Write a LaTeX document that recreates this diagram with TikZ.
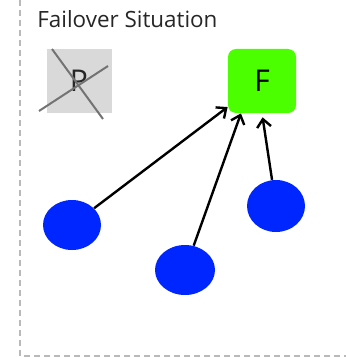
\documentclass[tikz,border=0pt]{standalone}
\usepackage{fontspec}
\setmainfont{Open Sans}
\usetikzlibrary{shapes.geometric,arrows.meta}
\definecolor{nodegreen}{HTML}{4CFF00}
\definecolor{nodeblue}{HTML}{0026FF}
\definecolor{deadgray}{HTML}{D9D9D9}
\tikzset{
	server/.style={rounded corners=4pt,minimum width=34pt,minimum height=32pt,inner sep=0pt,font=\fontsize{15}{15}\selectfont},
	client/.style={ellipse,fill=nodeblue,inner sep=0pt},
	link/.style={->,line width=1.2pt,>={Straight Barb[length=4pt,width=7pt]}}
}
\begin{document}
\begin{tikzpicture}[x=0.5pt,y=-0.5pt]
		\useasboundingbox (0,0) rectangle (346,358);
		\draw[gray!55,line width=1pt,dash pattern=on 3pt off 2pt] (20,0)--(20,356)--(346,356);
		\node[anchor=base west,inner sep=0pt,text=black!85,font=\fontsize{11.2}{12}\selectfont] (title) at (37,28) {Failover Situation};
		% the primary that went down
		\node[server,rounded corners=0pt,fill=deadgray,minimum width=32.5pt,text=black!85] (p) at (79,81) {P};
		\draw[black!55,line width=1pt] (52,49)--(103,119) (39,111)--(108,66);
		% the failover node
		\node[server,fill=nodegreen] (f) at (262,81) {F};
		\node[client,minimum width=29pt,minimum height=25pt] (c1) at (72,225) {};
		\node[client,minimum width=30pt,minimum height=25pt] (c2) at (185,270) {};
		\node[client,minimum width=29pt,minimum height=26pt] (c3) at (276,206) {};
		\draw[link] (c1)--(f);
		\draw[link] (c2)--(f.237);
		\draw[link,shorten >=2pt] (c3)--(f.south);
		\end{tikzpicture}
\end{document}
